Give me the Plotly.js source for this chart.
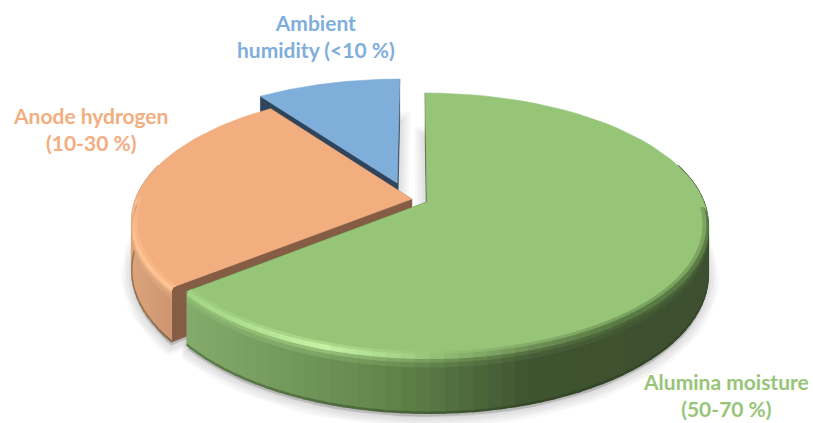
<!DOCTYPE html>
<html>
<head>
<meta charset="utf-8">
<script src="https://cdn.plot.ly/plotly-3.0.1.min.js"></script>
<style>html,body{margin:0;padding:0;background:#fff}#chart{width:813px;height:423px}</style>
</head>
<body>
<div id="chart"></div>
<script>
// Moisture and hydrogen sources, shares in percent
const sources = ['Alumina moisture', 'Anode hydrogen', 'Ambient humidity'];
const shares = [64.2, 25.9, 9.9];
const labelLines = ['Alumina moisture<br>(50-70 %)', 'Anode hydrogen<br>(10-30 %)', 'Ambient<br>humidity (<10 %)'];

// Slice look: exploded offset in disc units, surface colours and wall shading stops
const looks = [
  {du: 0.043, dv: 0, top: '#97C578', cut: '#3F5530',
   wall: [[187,'#84AB6B'],[300,'#71965A'],[400,'#5F8249'],[460,'#506C3D'],[530,'#3E5330'],[720,'#3D5030']],
   rim: [[187,'#A4D486'],[250,'#B0E091'],[320,'#C6F4A3'],[390,'#A9D88B'],[450,'#8DB970'],[530,'#6E9056'],[620,'#587A43'],[710,'#5B7E45']]},
  {du: -0.012, dv: -0.023, top: '#F2AE7F', cut: '#845D44',
   wall: [[130,'#DCA47B'],[175,'#CB9570']],
   rim: [[130,'#FFC292'],[175,'#FFC190']]},
  {du: -0.066, dv: -0.153, top: '#7FAEDB', cut: '#2F455C', wall: [[0,'#2F455C'],[813,'#2F455C']], rim: null}
];
const labelSpots = [[726, 395], [90, 129], [316, 36]];

// Perspective disc projected on the page
const ox = 415, oy = 202, A = 277, B = 127.3, k = 0.168, depth = 49;

function project(look, deg, r, z) {
  const t = deg * Math.PI / 180;
  const u = look.du + r * Math.sin(t), v = look.dv - r * Math.cos(t), w = 1 - k * v;
  return [ox + A * u / w, oy + B * v / w + z / w];
}
function hex(c) {
  if (c[0] === '#') return [1, 3, 5].map(i => parseInt(c.substr(i, 2), 16));
  return c.match(/\d+/g).map(Number);
}
function mix(c1, c2, f) {
  const a = hex(c1), b = hex(c2);
  return 'rgb(' + a.map((n, j) => Math.round(n + (b[j] - n) * f)).join(',') + ')';
}
function ramp(stops, x) {
  if (x <= stops[0][0]) return stops[0][1];
  for (let i = 1; i < stops.length; i++) {
    if (x <= stops[i][0]) return mix(stops[i-1][1], stops[i][1], (x - stops[i-1][0]) / (stops[i][0] - stops[i-1][0]));
  }
  return stops[stops.length-1][1];
}
function poly(pts, color, width) {
  const xs = pts.map(p => p[0]), ys = pts.map(p => p[1]);
  xs.push(xs[0]); ys.push(ys[0]);
  return {type: 'scatter', mode: 'lines', x: xs, y: ys, fill: 'toself', fillcolor: color,
          line: {color: color, width: width === undefined ? 0.6 : width}, hoverinfo: 'skip'};
}
function outline(look, a0, a1, z) {
  const pts = [project(look, 0, 0, z)];
  for (let a = a0; a <= a1 + 1e-6; a += (a1 - a0) / 60) pts.push(project(look, a, 1, z));
  return pts;
}

// Angular extent of every slice, clockwise from twelve o'clock
const total = shares.reduce((s, v) => s + v, 0);
let running = 0;
const spans = shares.map(v => { const a0 = running; running += v / total * 360; return [a0, running]; });

const traces = [];

// Soft ground shadow, widest stroke first
spans.forEach((sp, i) => {
  const pts = outline(looks[i], sp[0], sp[1], depth).map(p => [p[0], p[1] + 3]);
  pts.push(pts[0]);
  [22, 18, 14, 10, 6, 2].forEach(width => traces.push({
    type: 'scatter', mode: 'lines', x: pts.map(p => p[0]), y: pts.map(p => p[1]),
    fill: 'toself', fillcolor: 'rgba(0,0,0,0.03)',
    line: {color: 'rgba(0,0,0,0.022)', width: width}, hoverinfo: 'skip'
  }));
});

// Back slices first so nearer ones cover them
[2, 1, 0].forEach(i => {
  const look = looks[i], sp = spans[i];
  const step = 2.5;

  // Radial cut faces
  [sp[0], sp[1]].forEach(a => traces.push(poly([
    project(look, a, 0, 0), project(look, a, 1, 0), project(look, a, 1, depth), project(look, a, 0, depth)
  ], look.cut)));

  // Curved outer wall, only the part facing the viewer
  for (let a = sp[0]; a < sp[1] - 1e-6; a += step) {
    const b = Math.min(a + step, sp[1]);
    if (b < 75 || a > 285) continue;
    const c = ramp(look.wall, project(look, (a + b) / 2, 1, 0)[0]);
    traces.push(poly([project(look, a, 1, 0), project(look, b, 1, 0),
                      project(look, b, 1, depth - 1), project(look, a, 1, depth - 1)], c, 1.6));
    // Darker lower lip of the wall
    traces.push(poly([project(look, a, 1, depth - 1.5), project(look, b, 1, depth - 1.5),
                      project(look, b, 1, depth - 0.5), project(look, a, 1, depth - 0.5)], mix(c, '#26351C', 0.4), 1.4));
  }

  // Top surface
  traces.push(poly(outline(look, sp[0], sp[1], 0), look.top));

  // Bevel bands easing from the top surface down into the wall
  if (look.rim) {
    for (let a = sp[0]; a < sp[1] - 1e-6; a += step) {
      const b = Math.min(a + step, sp[1]);
      if (a < 92 || b > 272) continue;
      const x = project(look, (a + b) / 2, 1, 0)[0];
      const rim = ramp(look.rim, x), wall = ramp(look.wall, x);
      const band = (r0, z0, r1, z1, c) => traces.push(poly([
        project(look, a, r0, z0), project(look, b, r0, z0), project(look, b, r1, z1), project(look, a, r1, z1)], c, 1));
      band(1, 6, 1, 10, mix(rim, wall, 0.82));
      band(1, 3, 1, 6, mix(rim, wall, 0.55));
      band(0.992, 0, 1, 3, rim);
      band(0.982, 0, 0.992, 0, mix(look.top, rim, 0.45));
    }
  }
});

const annotations = sources.map((name, i) => ({
  x: labelSpots[i][0], y: labelSpots[i][1], xref: 'x', yref: 'y', showarrow: false,
  text: labelLines[i], align: 'center', yanchor: 'middle', xanchor: 'center',
  font: {family: 'Lato, Carlito, sans-serif', size: 21, weight: 700, color: looks[i].top}
}));

const layout = {
  width: 813, height: 423, margin: {l: 0, r: 0, t: 0, b: 0},
  paper_bgcolor: '#fff', plot_bgcolor: '#fff', showlegend: false,
  xaxis: {visible: false, range: [0, 813], fixedrange: true},
  yaxis: {visible: false, range: [423, 0], fixedrange: true},
  annotations
};
Plotly.newPlot('chart', traces, layout, {displayModeBar: false, staticPlot: true});
</script>
</body>
</html>
